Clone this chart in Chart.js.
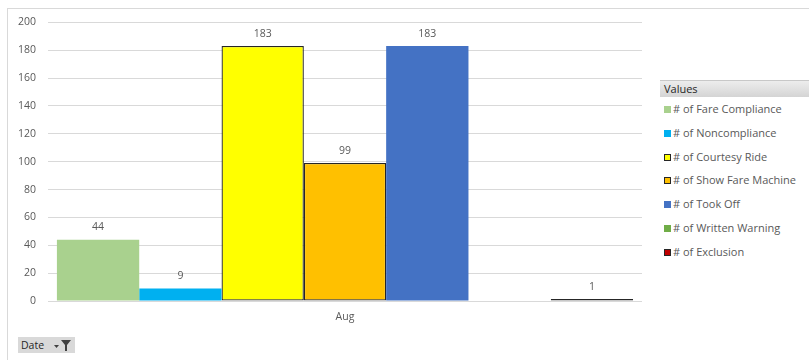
<!DOCTYPE html>
<html>
<head>
<meta charset="utf-8">
<script src="https://cdn.jsdelivr.net/npm/chart.js@4/dist/chart.umd.min.js"></script>
<style>
  html, body { margin:0; padding:0; background:#fff; }
  body { width:809px; height:360px; position:relative; overflow:hidden; font-family:"Open Sans", "Noto Sans", sans-serif; color:#595959; }
  .frame { position:absolute; left:7px; top:8px; right:0; bottom:-2px; border-left:1px solid #d9d9d9; border-top:1px solid #d9d9d9; }
  #wrap { position:absolute; left:8px; top:4px; width:645px; height:331px; }
  .legend { position:absolute; left:660px; top:80px; width:149px; font-size:11px; }
  .legend .hdr { height:16px; line-height:16px; padding-left:4px; color:#262626; background:linear-gradient(#ededed,#d4d4d4); border-top:1px solid #c8c8c8; }
  .legend .item { position:absolute; left:4px; height:14px; line-height:14px; white-space:nowrap; }
  .legend .sw { display:inline-block; width:7px; height:7px; margin-right:2px; vertical-align:0px; box-sizing:border-box; }
  .date-btn { position:absolute; left:18px; top:337px; width:57px; height:16px; background:#d9d9d9; color:#262626; font-size:10.5px; line-height:16px; padding-left:3px; box-sizing:border-box; }
  .date-btn svg { position:absolute; left:36px; top:3px; }
</style>
</head>
<body>
<div class="frame"></div>
<div id="wrap"><canvas id="chart"></canvas></div>
<div class="legend" id="legend"><div class="hdr">Values</div></div>
<div class="date-btn">Date
  <svg width="18" height="11" viewBox="0 0 18 11">
    <path d="M0 5 L5 5 L2.5 8 Z" fill="#404040"/>
    <path d="M7 0 L17 0 L13 5 L13 11 L11 11 L11 5 Z" fill="#404040"/>
  </svg>
</div>

<script>
  // pivot values for the single month
  var categories = ['Aug'];
  var seriesNames = ['# of Fare Compliance', '# of Noncompliance', '# of Courtesy Ride', '# of Show Fare Machine', '# of Took Off', '# of Written Warning', '# of Exclusion'];
  var seriesValues = [44, 9, 183, 99, 183, 0, 1];
  var seriesColors = ['#A9D18E', '#00B0F0', '#FFFF00', '#FFC000', '#4472C4', '#70AD47', '#C00000'];
  var seriesOutlined = [false, false, true, true, false, false, true];
  var yTicks = [0, 20, 40, 60, 80, 100, 120, 140, 160, 180, 200];

  var FONT = '"Open Sans", "Noto Sans", sans-serif';
  var OUTLINE = '#262626';

  // pixel height a value takes on the y scale
  function barPx(c) {
    var y = c.chart.scales.y;
    if (!y || typeof c.raw !== 'number') return Infinity;
    return Math.abs(y.getPixelForValue(0) - y.getPixelForValue(c.raw));
  }

  var datasets = seriesNames.map(function (name, i) {
    return {
      label: name,
      data: [seriesValues[i]],
      // a bar only a pixel or two tall is all outline, so paint it in the outline colour
      backgroundColor: function (c) {
        return seriesOutlined[i] && barPx(c) < 3 ? OUTLINE : seriesColors[i];
      },
      borderColor: seriesOutlined[i] ? OUTLINE : seriesColors[i],
      borderWidth: seriesOutlined[i] ? 1.3 : 0,
      borderSkipped: false,
      minBarLength: seriesValues[i] ? 2 : 0,
      categoryPercentage: 0.97,
      barPercentage: 1
    };
  });

  // value labels above each bar (zeros are left blank)
  var barLabels = {
    id: 'barLabels',
    afterDatasetsDraw: function (chart) {
      var ctx = chart.ctx;
      ctx.save();
      ctx.font = '10.5px ' + FONT;
      ctx.fillStyle = '#595959';
      ctx.textAlign = 'center';
      ctx.textBaseline = 'bottom';
      chart.data.datasets.forEach(function (ds, i) {
        var v = ds.data[0];
        if (!v) return;
        var bar = chart.getDatasetMeta(i).data[0];
        ctx.fillText(String(v), bar.x, bar.y - 7);
      });
      ctx.restore();
    }
  };

  new Chart(document.getElementById('chart'), {
    type: 'bar',
    data: { labels: categories, datasets: datasets },
    plugins: [barLabels],
    options: {
      responsive: true, maintainAspectRatio: false, animation: false,
      layout: { padding: { top: 14, right: 11, left: 0, bottom: 0 } },
      plugins: { legend: { display: false }, tooltip: { enabled: false } },
      scales: {
        x: {
          grid: { display: false, drawTicks: false },
          border: { display: false },
          ticks: { color: '#595959', font: { family: FONT, size: 10.5 }, padding: 10 },
          afterFit: function (s) { s.height = 34; }
        },
        y: {
          min: 0, max: 200,
          afterBuildTicks: function (s) { s.ticks = yTicks.map(function (v) { return { value: v }; }); },
          grid: { color: '#d9d9d9', drawTicks: false },
          border: { display: false },
          ticks: { color: '#595959', font: { family: FONT, size: 10.5 }, padding: 12 },
          afterFit: function (s) { s.width = 40; }
        }
      }
    }
  });

  // legend beside the plot
  var legend = document.getElementById('legend');
  seriesNames.forEach(function (name, i) {
    var row = document.createElement('div');
    row.className = 'item';
    row.style.top = (22 + i * 23.8) + 'px';
    var sw = '<span class="sw" style="background:' + seriesColors[i] + ';' +
      (seriesOutlined[i] ? 'border:1px solid ' + OUTLINE + ';' : '') + '"></span>';
    row.innerHTML = sw + name;
    legend.appendChild(row);
  });
</script>
</body>
</html>
